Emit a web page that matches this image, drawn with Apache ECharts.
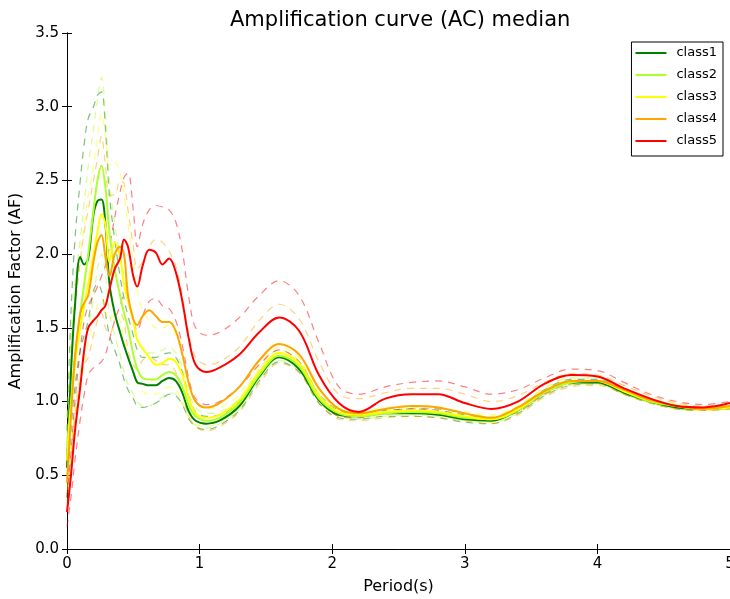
<!DOCTYPE html>
<html>
<head>
<meta charset="utf-8">
<script src="https://cdn.jsdelivr.net/npm/echarts@6/dist/echarts.min.js"></script>
<style>html,body{margin:0;padding:0;background:#fff;overflow:hidden;}#c{width:730px;height:599px;}</style>
</head>
<body>
<div id="c"></div>
<script>
// ---- data ----
const periods = [0,0.03,0.06,0.1,0.13,0.16,0.2,0.23,0.26,0.29,0.32,0.36,0.4,0.43,0.46,0.5,0.53,0.57,0.62,0.67,0.72,0.77,0.82,0.87,0.92,0.97,1.05,1.15,1.3,1.45,1.6,1.75,1.9,2.05,2.2,2.4,2.6,2.8,3.0,3.2,3.4,3.6,3.8,4.0,4.2,4.4,4.6,4.8,5.0];
const classNames = ['class1','class2','class3','class4','class5'];
const xTicks = [0,1,2,3,4,5];
const yTicks = [0,0.5,1,1.5,2,2.5,3,3.5];

const class1 = [0.55,1.2,1.65,1.98,1.93,1.97,2.27,2.36,2.37,2.2,1.8,1.6,1.47,1.38,1.3,1.2,1.13,1.12,1.11,1.11,1.14,1.16,1.14,1.06,0.93,0.87,0.85,0.87,0.97,1.17,1.3,1.22,1.01,0.91,0.9,0.92,0.92,0.91,0.88,0.87,0.94,1.06,1.13,1.13,1.06,1.0,0.96,0.95,0.96];
const class2 = [0.7,1.0,1.3,1.6,1.8,2.0,2.3,2.5,2.6,2.45,2.15,1.9,1.72,1.6,1.5,1.32,1.22,1.16,1.15,1.15,1.18,1.2,1.18,1.1,0.97,0.9,0.87,0.89,0.99,1.18,1.31,1.24,1.02,0.92,0.9,0.92,0.93,0.92,0.89,0.88,0.94,1.06,1.13,1.14,1.07,1.0,0.97,0.95,0.96];
const class3 = [0.6,0.95,1.25,1.5,1.65,1.8,2.0,2.15,2.27,2.2,1.95,2.08,1.98,1.8,1.68,1.55,1.42,1.36,1.3,1.25,1.26,1.29,1.27,1.18,1.02,0.92,0.89,0.91,1.01,1.2,1.33,1.26,1.04,0.93,0.91,0.93,0.94,0.93,0.9,0.88,0.95,1.07,1.14,1.14,1.07,1.01,0.97,0.95,0.96];
const class4 = [0.45,0.9,1.3,1.6,1.67,1.72,1.95,2.08,2.13,1.98,1.85,2.0,2.05,2.0,1.72,1.56,1.52,1.58,1.62,1.58,1.54,1.54,1.48,1.32,1.12,1.0,0.96,0.99,1.1,1.28,1.39,1.32,1.09,0.95,0.92,0.95,0.97,0.96,0.92,0.89,0.96,1.07,1.14,1.14,1.08,1.01,0.97,0.95,0.97];
const class5 = [0.25,0.5,0.8,1.1,1.35,1.5,1.55,1.58,1.62,1.65,1.76,1.9,1.97,2.1,2.05,1.85,1.78,1.92,2.03,2.01,1.93,1.97,1.88,1.68,1.42,1.25,1.2,1.23,1.32,1.47,1.57,1.48,1.18,0.99,0.93,1.02,1.05,1.05,0.99,0.95,1.0,1.12,1.18,1.17,1.09,1.02,0.97,0.96,0.99];

const class1Upper = [0.8,1.6,2.1,2.5,2.75,2.92,3.0,3.08,3.1,2.85,2.4,2.1,1.85,1.7,1.58,1.45,1.35,1.3,1.3,1.3,1.32,1.33,1.3,1.2,1.03,0.93,0.9,0.91,1.0,1.2,1.33,1.26,1.05,0.94,0.92,0.94,0.95,0.94,0.91,0.89,0.96,1.08,1.15,1.15,1.08,1.01,0.97,0.96,0.97];
const class1Lower = [0.35,0.8,1.1,1.35,1.45,1.55,1.75,1.8,1.75,1.6,1.45,1.35,1.25,1.15,1.08,1.02,0.97,0.96,0.97,0.99,1.02,1.05,1.04,0.98,0.88,0.83,0.81,0.84,0.94,1.14,1.27,1.2,0.99,0.89,0.88,0.9,0.9,0.89,0.86,0.85,0.92,1.04,1.11,1.12,1.05,0.99,0.95,0.94,0.95];
const class2Upper = [0.9,1.4,1.8,2.1,2.35,2.6,2.85,3.05,3.2,2.95,2.5,2.2,2.0,1.85,1.7,1.55,1.42,1.35,1.33,1.33,1.35,1.37,1.33,1.23,1.06,0.96,0.92,0.93,1.02,1.22,1.35,1.28,1.06,0.95,0.93,0.95,0.96,0.95,0.92,0.9,0.97,1.09,1.16,1.16,1.09,1.02,0.98,0.96,0.97];
const class2Lower = [0.5,0.7,0.95,1.2,1.35,1.5,1.7,1.9,2.0,1.85,1.6,1.45,1.32,1.2,1.12,1.05,1.0,0.97,0.97,1.0,1.03,1.06,1.05,0.98,0.89,0.84,0.82,0.85,0.95,1.15,1.28,1.21,1.0,0.9,0.88,0.9,0.91,0.9,0.87,0.86,0.92,1.04,1.11,1.12,1.05,0.99,0.95,0.94,0.95];
const class3Upper = [0.8,1.3,1.7,2.0,2.2,2.4,2.6,2.8,2.95,2.8,2.6,2.62,2.55,2.4,2.2,1.95,1.75,1.62,1.55,1.5,1.5,1.52,1.45,1.32,1.12,1.0,0.95,0.96,1.05,1.24,1.37,1.3,1.08,0.96,0.94,0.96,0.97,0.96,0.93,0.91,0.97,1.09,1.16,1.16,1.09,1.02,0.98,0.96,0.97];
const class3Lower = [0.4,0.65,0.9,1.1,1.25,1.4,1.55,1.65,1.7,1.6,1.55,1.6,1.55,1.42,1.3,1.2,1.12,1.07,1.05,1.05,1.07,1.1,1.08,1.0,0.9,0.85,0.83,0.86,0.96,1.16,1.29,1.22,1.01,0.9,0.89,0.91,0.92,0.91,0.88,0.86,0.93,1.05,1.12,1.12,1.05,0.99,0.95,0.94,0.95];
const class4Upper = [0.65,1.2,1.6,1.95,2.15,2.3,2.5,2.65,2.8,2.6,2.4,2.4,2.5,2.48,2.3,2.05,1.9,1.95,2.05,2.1,2.08,2.02,1.92,1.72,1.45,1.3,1.25,1.27,1.37,1.55,1.66,1.56,1.27,1.05,1.02,1.06,1.09,1.09,1.05,1.0,1.04,1.13,1.19,1.18,1.11,1.04,0.99,0.97,0.98];
const class4Lower = [0.3,0.6,0.9,1.15,1.25,1.3,1.45,1.55,1.6,1.5,1.45,1.55,1.6,1.55,1.35,1.25,1.22,1.28,1.3,1.28,1.25,1.25,1.2,1.05,0.9,0.83,0.8,0.83,0.93,1.12,1.26,1.2,0.99,0.88,0.87,0.89,0.9,0.89,0.87,0.85,0.91,1.03,1.1,1.11,1.05,0.99,0.95,0.94,0.95];
const class5Upper = [0.35,0.65,1.0,1.35,1.55,1.65,1.72,1.78,1.85,1.92,2.05,2.25,2.42,2.52,2.55,2.3,2.05,2.2,2.3,2.33,2.32,2.3,2.22,2.02,1.7,1.5,1.45,1.47,1.57,1.72,1.82,1.72,1.4,1.1,1.05,1.1,1.13,1.14,1.1,1.05,1.08,1.16,1.22,1.21,1.13,1.05,1.0,0.98,1.0];
const class5Lower = [0.15,0.35,0.6,0.88,1.05,1.18,1.23,1.25,1.27,1.32,1.42,1.55,1.65,1.72,1.7,1.55,1.48,1.58,1.68,1.7,1.65,1.63,1.55,1.38,1.15,1.02,0.98,1.0,1.1,1.25,1.35,1.27,1.04,0.9,0.89,0.93,0.95,0.95,0.92,0.89,0.93,1.05,1.12,1.13,1.07,1.0,0.96,0.95,0.96];

const colors = ['#008000','#adff2f','#ffff00','#ffa500','#ff0000'];
const medians = [class1,class2,class3,class4,class5];
const uppers = [class1Upper,class2Upper,class3Upper,class4Upper,class5Upper];
const lowers = [class1Lower,class2Lower,class3Lower,class4Lower,class5Lower];

const pts = arr => periods.map((p,i)=>[p,arr[i]]);
const FONT = 'DejaVu Sans';

const series = [];
for (let k=0;k<5;k++){
  [uppers[k],lowers[k]].forEach((b,j)=>{
    series.push({
      name: classNames[k] + (j===0?' upper':' lower'),
      type:'line', data: pts(b), showSymbol:false, smooth:0.35,
      lineStyle:{color:colors[k], width:1.2, type:[7,6], opacity:0.5},
      itemStyle:{color:colors[k]}, z:2, silent:true
    });
  });
}
for (let k=0;k<5;k++){
  series.push({
    name: classNames[k], type:'line', data: pts(medians[k]), showSymbol:false, smooth:0.35,
    lineStyle:{color:colors[k], width:2}, itemStyle:{color:colors[k]}, z:3
  });
}

const chart = echarts.init(document.getElementById('c'), null, {renderer:'canvas', width:730, height:599});
const axisCommon = {
  axisLine:{show:true, lineStyle:{color:'#000', width:1}},
  axisTick:{show:true, inside:true, length:5, lineStyle:{color:'#000'}},
  splitLine:{show:false}
};
chart.setOption({
  animation:false,
  backgroundColor:'#fff',
  title:{text:'Amplification curve (AC) median', left:225, top:5,
    textStyle:{fontFamily:FONT, fontSize:21, fontWeight:'normal', color:'#000'}},
  legend:{
    data: classNames, orient:'vertical', right:7, top:42,
    icon:'rect', itemWidth:31, itemHeight:2, itemGap:8,
    borderColor:'#000', borderWidth:1, borderRadius:0, padding:[4,6,8,4],
    backgroundColor:'#fff',
    textStyle:{fontFamily:FONT, fontSize:13, color:'#000', lineHeight:14, padding:[0,0,0,5]}
  },
  grid:{left:67, top:33, right:0, bottom:50, containLabel:false, outerBoundsMode:'none'},
  xAxis:[
    Object.assign({type:'value', min:0, max:5, interval:1, position:'bottom',
      name:'Period(s)', nameLocation:'middle', nameGap:30,
      nameTextStyle:{fontFamily:FONT, fontSize:16, color:'#000'},
      axisLabel:{fontFamily:FONT, fontSize:15, color:'#000', margin:8,
        formatter: v => xTicks.includes(v) ? String(v) : ''}}, axisCommon),
    Object.assign({type:'value', min:0, max:5, interval:1, position:'top',
      axisLabel:{show:false}}, axisCommon)
  ],
  yAxis:[
    Object.assign({type:'value', min:0, max:3.5, interval:0.5, position:'left',
      name:'Amplification Factor (AF)', nameLocation:'middle', nameGap:39,
      nameTextStyle:{fontFamily:FONT, fontSize:16, color:'#000'},
      axisLabel:{fontFamily:FONT, fontSize:15, color:'#000', margin:8,
        formatter: v => yTicks.some(t=>Math.abs(t-v)<1e-9) ? v.toFixed(1) : ''}}, axisCommon),
    Object.assign({type:'value', min:0, max:3.5, interval:0.5, position:'right',
      axisLabel:{show:false}}, axisCommon)
  ],
  series: series
});
</script>
</body>
</html>
